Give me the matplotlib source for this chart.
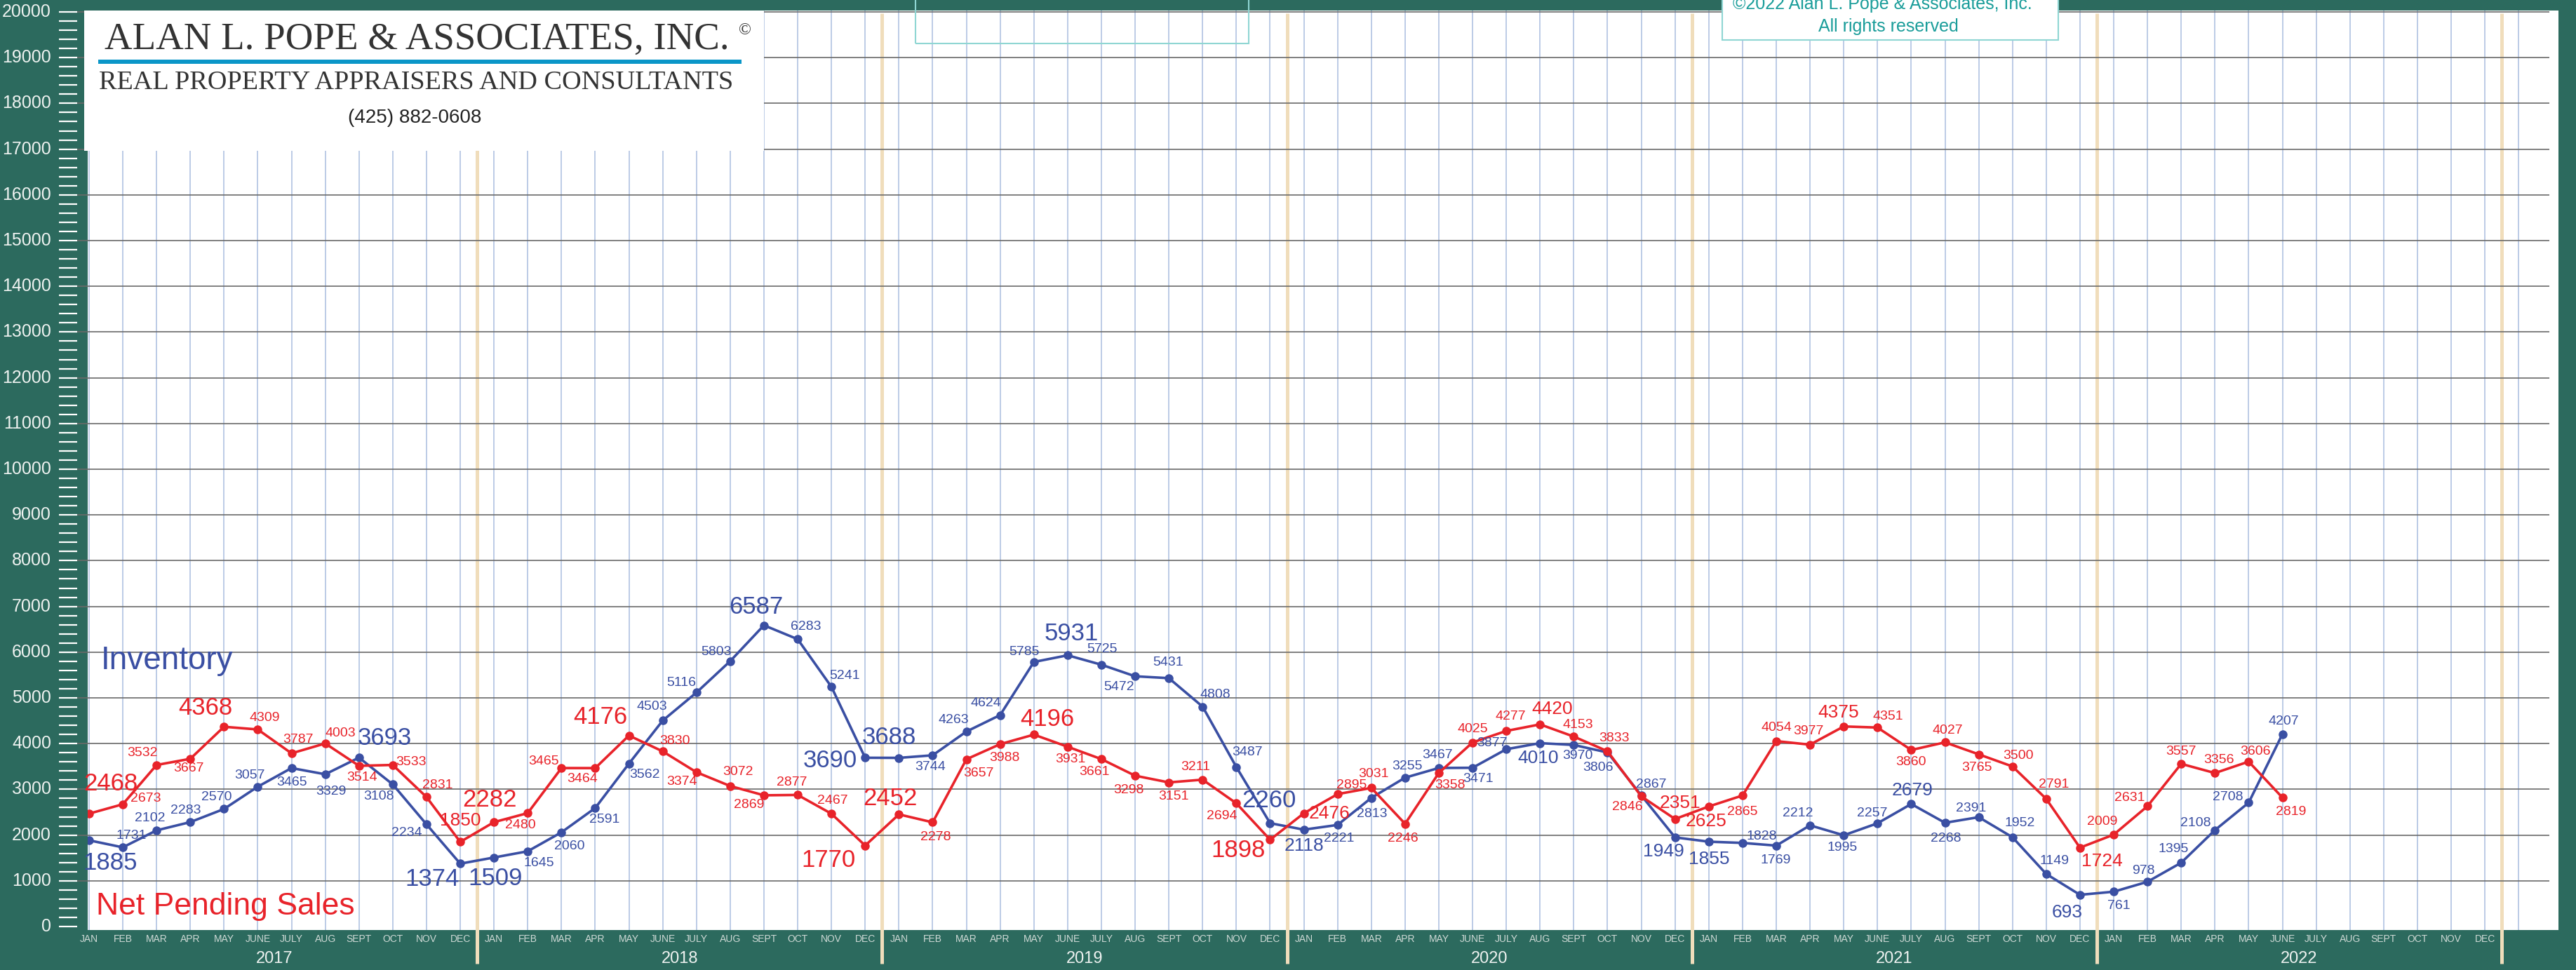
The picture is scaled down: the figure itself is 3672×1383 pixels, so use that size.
import matplotlib
matplotlib.use("Agg")
import matplotlib.pyplot as plt
import matplotlib.transforms as mtransforms
from matplotlib.patches import Rectangle
import numpy as np

# ---- data ----
months = ["JAN", "FEB", "MAR", "APR", "MAY", "JUNE", "JULY", "AUG", "SEPT", "OCT", "NOV", "DEC"]
years = ["2017", "2018", "2019", "2020", "2021", "2022"]

inventory = [1885, 1731, 2102, 2283, 2570, 3057, 3465, 3329, 3693, 3108, 2234, 1374,
             1509, 1645, 2060, 2591, 3562, 4503, 5116, 5803, 6587, 6283, 5241, 3690,
             3688, 3744, 4263, 4624, 5785, 5931, 5725, 5472, 5431, 4808, 3487, 2260,
             2118, 2221, 2813, 3255, 3467, 3471, 3877, 4010, 3970, 3806, 2867, 1949,
             1855, 1828, 1769, 2212, 1995, 2257, 2679, 2268, 2391, 1952, 1149, 693,
             761, 978, 1395, 2108, 2708, 4207]

pending = [2468, 2673, 3532, 3667, 4368, 4309, 3787, 4003, 3514, 3533, 2831, 1850,
           2282, 2480, 3465, 3464, 4176, 3830, 3374, 3072, 2869, 2877, 2467, 1770,
           2452, 2278, 3657, 3988, 4196, 3931, 3661, 3298, 3151, 3211, 2694, 1898,
           2476, 2895, 3031, 2246, 3358, 4025, 4277, 4420, 4153, 3833, 2846, 2351,
           2625, 2865, 4054, 3977, 4375, 4351, 3860, 4027, 3765, 3500, 2791, 1724,
           2009, 2631, 3557, 3356, 3606, 2819]

# ---- label styling (offsets in pixels, dy up) ----
inv_off = [(30, -32), (12, 17), (-9, 17), (-6, 17), (-11, 17), (-11, 16), (0, -20), (8, -25), (37, 28), (-20, -17), (-28, -12), (-40, -22),
           (2, -30), (16, -17), (11, -20), (13, -16), (22, -16), (-15, 20), (-22, 14), (-20, 13), (-11, 26), (12, 18), (19, 16), (-50, -4),
           (-14, 29), (-3, -17), (-18, 17), (-20, 17), (-14, 14), (5, 31), (1, 22), (-23, -15), (-1, 22), (18, 17), (16, 21), (-2, 32),
           (0, -23), (2, -19), (1, -23), (3, 16), (-2, 18), (8, -16), (-20, 9), (-3, -21), (6, -15), (-14, -22), (14, 16), (-16, -20),
           (0, -25), (27, 9), (-1, -21), (-17, 17), (-2, -18), (-8, 14), (2, 19), (1, -22), (-11, 13), (10, 20), (12, 19), (-18, -25),
           (7, -20), (-6, 16), (-11, 20), (-28, 10), (-30, 8), (2, 18)]
pen_off = [(31, 43), (33, 8), (-20, 17), (-2, -14), (-26, 27), (10, 17), (9, 20), (22, 14), (4, -17), (26, 4), (16, 17), (0, 30),
           (-6, 32), (-10, -17), (-25, 10), (-18, -15), (-41, 26), (17, 15), (-21, -13), (11, 20), (-21, -14), (-8, 18), (2, 19), (-52, -21),
           (-12, 23), (4, -21), (17, -20), (6, -20), (19, 22), (4, -18), (-10, -18), (-9, -21), (7, -20), (-10, 18), (-21, -18), (-45, -15),
           (36, 0), (20, 13), (3, 20), (-3, -21), (16, -17), (0, 19), (6, 21), (17, 22), (6, 17), (9, 19), (-20, -15), (7, 23),
           (-4, -21), (0, -23), (0, 19), (-2, 19), (-8, 20), (15, 16), (0, -17), (4, 17), (-3, -19), (8, 15), (11, 21), (31, -19),
           (-16, 18), (-25, 12), (0, 18), (6, 19), (10, 14), (12, -20)]
inv_big = [0, 8, 11, 12, 20, 23, 24, 29, 35]
inv_mid = [36, 43, 47, 48, 54, 59]
pen_big = [0, 4, 12, 16, 23, 24, 28, 35]
pen_mid = [11, 36, 43, 47, 48, 52, 59]

GREEN = "#2c6a5e"
BLUE = "#3a4fa3"
RED = "#e8232a"
GOLD = "#f0ddbb"
TEAL = "#1a9d9a"
SANS = ["Liberation Sans", "DejaVu Sans"]
SERIF = ["Liberation Serif", "DejaVu Serif"]

W, H = 3673, 1383
fig = plt.figure(figsize=(W / 100, H / 100), dpi=100)
fig.patch.set_facecolor(GREEN)

y0, y1 = -77, 20031
ax = fig.add_axes([125 / W, (H - 1326) / H, (3647 - 125) / W, 1311 / H])
ax.set_facecolor("white")
for s in ax.spines.values():
    s.set_visible(False)
ax.set_xticks([])
ax.set_yticks([])
ax.set_xlim(-0.04, 73.18)
ax.set_ylim(y0, y1)

ax.vlines(np.arange(73), y0, y1, color="#aabddf", lw=1.1, zorder=1)
ax.vlines(np.arange(11.5, 72, 12), -813, 19970, color=GOLD, lw=3.6, zorder=1.2, clip_on=False)
ax.hlines(np.arange(1000, 20001, 1000), -0.35, 72.9, color="#6a6a6a", lw=1.2, zorder=1.5, clip_on=False)

x = np.arange(len(inventory))
ax.plot(x, inventory, color=BLUE, lw=2.6, marker="o", ms=8, zorder=4)
ax.plot(x, pending, color=RED, lw=2.6, marker="o", ms=8, zorder=5)

def size_of(i, big, mid):
    if i in big:
        return 25
    if i in mid:
        return 19
    return 14

for i, v in enumerate(inventory):
    ax.annotate(str(v), (i, v), xytext=inv_off[i], textcoords="offset pixels",
                ha="center", va="center", fontsize=size_of(i, inv_big, inv_mid),
                color=BLUE, family=SANS, zorder=6)
for i, v in enumerate(pending):
    ax.annotate(str(v), (i, v), xytext=pen_off[i], textcoords="offset pixels",
                ha="center", va="center", fontsize=size_of(i, pen_big, pen_mid),
                color=RED, family=SANS, zorder=6)

# month / year labels under the plot
bt = mtransforms.blended_transform_factory(ax.transData, fig.transFigure)
for k in range(len(years) * 12):
    ax.text(k, 1 - 1339 / H, months[k % 12], transform=bt, ha="center", va="center",
            fontsize=10, color="#cfdad6", family=SANS)
for k, yr in enumerate(years):
    ax.text(5.5 + 12 * k, 1 - 1367 / H, yr, transform=bt, ha="center", va="center",
            fontsize=17, color="#eef2f0", family=SANS)

# y ticks drawn off to the left of the plot
tax = fig.add_axes([84 / W, (H - 1326) / H, 26 / W, 1311 / H])
tax.set_xlim(0, 1)
tax.set_ylim(y0, y1)
tax.axis("off")
tax.hlines(np.arange(0, 20001, 200), 0, 1, color="white", lw=1.6, clip_on=False)
for v in range(0, 20001, 1000):
    tax.text(-0.42, v, str(v), ha="right", va="center", fontsize=18,
             color="#eef2f0", family=SANS)

# series names
fig.text(144 / W, 1 - 954 / H, "Inventory", color=BLUE, fontsize=33, family=SANS, va="baseline")
fig.text(137 / W, 1 - 1304 / H, "Net Pending Sales", color=RED, fontsize=32, family=SANS, va="baseline")

# logo block
fig.add_artist(Rectangle((120 / W, 1 - 215 / H), (1089 - 120) / W, 200 / H,
                         transform=fig.transFigure, facecolor="white", edgecolor="none", zorder=10))
fig.add_artist(Rectangle((140 / W, 1 - 91 / H), (1057 - 140) / W, 6 / H,
                         transform=fig.transFigure, facecolor="#0a96c8", edgecolor="none", zorder=11))
fig.text(149 / W, 1 - 70 / H, "ALAN L. POPE & ASSOCIATES, INC.", fontsize=39.5, family=SERIF,
         color="#333333", va="baseline", zorder=12)
fig.text(1062 / W, 1 - 44 / H, "\u00a9", fontsize=17, family=SERIF, color="#333333",
         ha="center", va="center", zorder=12)
fig.text(141 / W, 1 - 127 / H, "REAL PROPERTY APPRAISERS AND CONSULTANTS", fontsize=27.5,
         family=SERIF, color="#333333", va="baseline", zorder=12)
fig.text(591 / W, 1 - 175 / H, "(425) 882-0608", fontsize=20, family=SANS, color="#222222",
         ha="center", va="baseline", zorder=12)

# boxes at the top
fig.add_artist(Rectangle((1305 / W, 1 - 62 / H), (1780 - 1305) / W, 70 / H,
                         transform=fig.transFigure, facecolor="none", edgecolor="#8fd6d3", lw=1.5, zorder=10))
fig.add_artist(Rectangle((2455 / W, 1 - 57 / H), (2934 - 2455) / W, 66 / H,
                         transform=fig.transFigure, facecolor="white", edgecolor="#8fd6d3", lw=1.5, zorder=10))
fig.text(2683 / W, 1 - 13 / H, "\u00a92022 Alan L. Pope & Associates, Inc.", fontsize=18,
         family=SANS, color=TEAL, ha="center", va="baseline", zorder=12)
fig.text(2692 / W, 1 - 45 / H, "All rights reserved", fontsize=18,
         family=SANS, color=TEAL, ha="center", va="baseline", zorder=12)

plt.savefig("out.png", dpi=100, facecolor=GREEN)
